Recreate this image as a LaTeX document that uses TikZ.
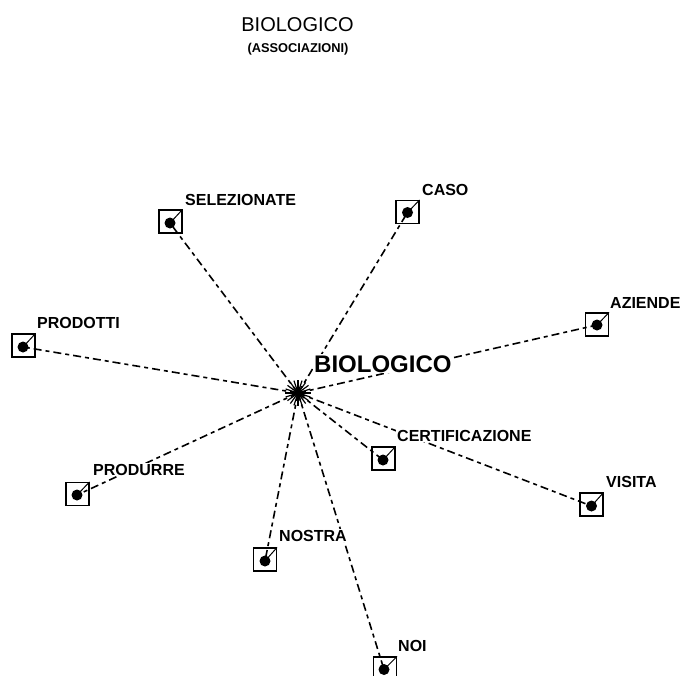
\documentclass[tikz,border=0pt]{standalone}
\usepackage{fontspec}
\setmainfont{Liberation Sans}
\begin{document}
\begin{tikzpicture}[x=1pt,y=-1pt,
  boxn/.style={draw,line width=1.1pt,minimum width=23pt,minimum height=23pt,inner sep=0pt},
  dotn/.style={circle,fill=black,minimum size=11pt,inner sep=0pt},
  conn/.style={line width=1.6pt,dash pattern=on 8pt off 4pt on 4pt off 4pt},
  tick/.style={line width=1pt},
  lbl/.style={anchor=base west,inner sep=1pt,fill=white,font=\fontsize{16}{19}\selectfont\bfseries},
  ray/.style={line width=1.2pt}]
\useasboundingbox (0,0) rectangle (684,675);
\clip (0,0) rectangle (684,675);
% titles
\node[anchor=base,inner sep=0pt,font=\fontsize{20}{24}\selectfont] (t1) at (297.5,31) {BIOLOGICO};
\node[anchor=base,inner sep=0pt,font=\fontsize{12.8}{15}\selectfont\bfseries] (t2) at (298,52.5) {(ASSOCIAZIONI)};
% centre
\coordinate (c) at (298,393);
% boxes and dots
\node[boxn] (sel) at (170.5,221.5) {};  \node[dotn] (seld) at (170,223) {};
\node[boxn] (caso) at (407.5,212) {};   \node[dotn] (casod) at (407.5,212.5) {};
\node[boxn] (azi) at (597,324.5) {};    \node[dotn] (azid) at (597,325) {};
\node[boxn] (prod) at (23.5,345.5) {};  \node[dotn] (prodd) at (23,347) {};
\node[boxn] (pdr) at (77.5,494) {};     \node[dotn] (pdrd) at (77,495) {};
\node[boxn] (cert) at (383.5,458.5) {}; \node[dotn] (certd) at (383,460) {};
\node[boxn] (vis) at (591.5,504.5) {};  \node[dotn] (visd) at (591.5,506) {};
\node[boxn] (nos) at (265,559.5) {};    \node[dotn] (nosd) at (265,561) {};
\node[boxn] (noi) at (385,668.5) {};    \node[dotn] (noid) at (384,669.5) {};
% connectors
\foreach \d in {seld,casod,azid,prodd,pdrd,certd,visd,nosd,noid}
  \draw[conn] (c) -- (\d.center);
% ticks inside boxes
\foreach \b/\d in {sel/seld,caso/casod,azi/azid,prod/prodd,pdr/pdrd,cert/certd,vis/visd,nos/nosd,noi/noid}
  \draw[tick] (\d.center) -- (\b.north east);
% star burst at centre
\foreach \a in {0,18,...,359}
  \draw[ray] (c) -- ++(\a:13);
\fill (c) circle (3.5);
% main label
\node[anchor=base west,inner sep=1pt,fill=white,font=\fontsize{24}{28}\selectfont\bfseries] (main) at (313,372) {BIOLOGICO};
% labels
\node[lbl] (lsel) at (184,205) {SELEZIONATE};
\node[lbl] (lcaso) at (421,195) {CASO};
\node[lbl] (lazi) at (609,308) {AZIENDE};
\node[lbl] (lprod) at (36,328) {PRODOTTI};
\node[lbl] (lpdr) at (92,475) {PRODURRE};
\node[lbl] (lcert) at (396,441) {CERTIFICAZIONE};
\node[lbl] (lvis) at (605,487) {VISITA};
\node[lbl] (lnos) at (278,541) {NOSTRA};
\node[lbl] (lnoi) at (397,651) {NOI};
\end{tikzpicture}
\end{document}
